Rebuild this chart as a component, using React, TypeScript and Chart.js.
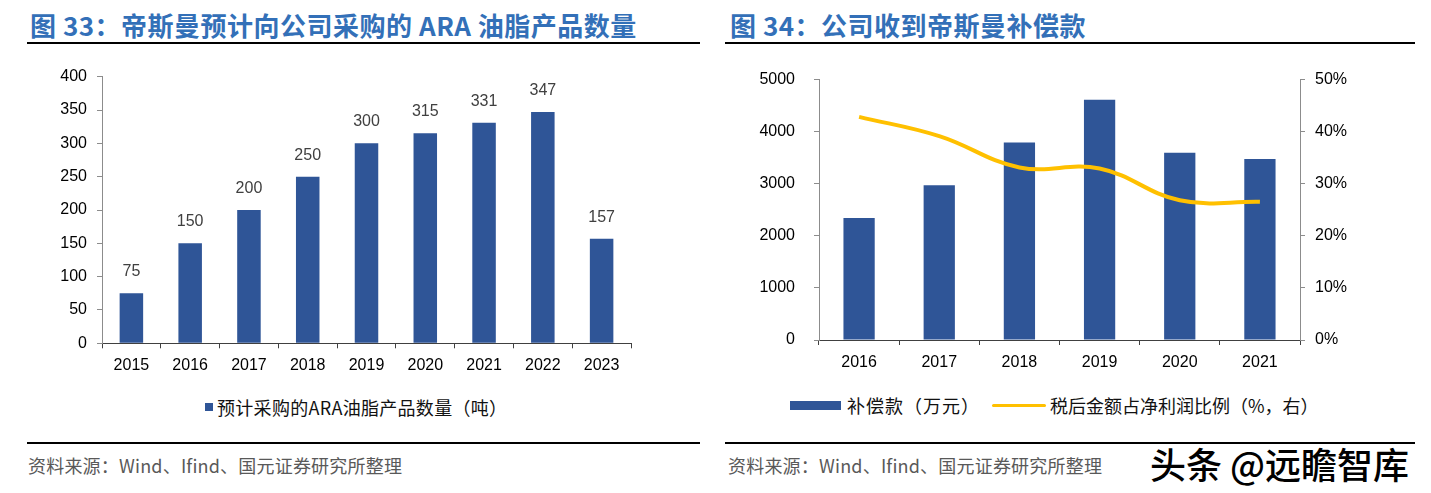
import React, { useEffect, useRef } from "react";
import { Chart, registerables } from "chart.js";

Chart.register(...registerables);

// ---- Data: Figure 33 ----
const purchaseYears = ["2015", "2016", "2017", "2018", "2019", "2020", "2021", "2022", "2023"];
const purchaseTons = [75, 150, 200, 250, 300, 315, 331, 347, 157];
const purchaseAxisMax = 400;
const purchaseAxisStep = 50;

// ---- Data: Figure 34 ----
const compYears = ["2016", "2017", "2018", "2019", "2020", "2021"];
const compAmount = [2340, 2970, 3790, 4610, 3590, 3470];
const compRatio = [42.8, 39.1, 33.1, 32.9, 26.8, 26.5];
const compAxisMax = 5000;
const compAxisStep = 1000;
const ratioAxisMax = 50;
const ratioAxisStep = 10;

const title33 = "图 33：帝斯曼预计向公司采购的 ARA 油脂产品数量";
const title34 = "图 34：公司收到帝斯曼补偿款";
const legend33 = "预计采购的ARA油脂产品数量（吨）";
const legend34Bar = "补偿款（万元）";
const legend34Line = "税后金额占净利润比例（%，右）";
const sourceText = "资料来源：Wind、Ifind、国元证券研究所整理";
const watermark = "头条 @远瞻智库";

const BAR = "#2F5597";
const LINE = "#FFC000";
const TICK_FONT = { family: "'Liberation Sans', Arial, sans-serif", size: 16 };
const CJK = "'Noto Sans CJK SC', 'Noto Sans', sans-serif";

const valueLabels = {
  id: "valueLabels",
  afterDatasetsDraw(chart: any) {
    const meta = chart.getDatasetMeta(0);
    const ctx = chart.ctx;
    ctx.save();
    ctx.font = "16px 'Liberation Sans', Arial, sans-serif";
    ctx.fillStyle = "#404040";
    ctx.textAlign = "center";
    ctx.textBaseline = "alphabetic";
    meta.data.forEach((bar: any, i: number) => {
      ctx.fillText(String(chart.data.datasets[0].data[i]), bar.x, bar.y - 17);
    });
    ctx.restore();
  },
};

function LeftChart() {
  const ref = useRef<HTMLCanvasElement | null>(null);
  useEffect(() => {
    if (!ref.current) return;
    const chart = new Chart(ref.current, {
      type: "bar",
      data: {
        labels: purchaseYears,
        datasets: [
          {
            label: legend33,
            data: purchaseTons,
            backgroundColor: BAR,
            borderWidth: 0,
            categoryPercentage: 1,
            barPercentage: 0.4,
          },
        ],
      },
      options: {
        animation: false,
        responsive: false,
        maintainAspectRatio: false,
        events: [],
        layout: { padding: { left: 0, right: 79, top: 26.7, bottom: 16.7 } },
        plugins: { legend: { display: false }, tooltip: { enabled: false } },
        scales: {
          x: {
            grid: { drawOnChartArea: false, drawTicks: true, tickLength: 5, color: "#404040", offset: true },
            border: { display: true, color: "#404040", width: 1 },
            ticks: { color: "#000", font: TICK_FONT, padding: 8, maxRotation: 0 },
            afterFit: (s: any) => { s.height = 30; },
          },
          y: {
            min: 0,
            max: purchaseAxisMax,
            grid: { drawOnChartArea: false, drawTicks: true, tickLength: 5, color: "#8C8C8C" },
            border: { display: true, color: "#8C8C8C", width: 1 },
            ticks: { stepSize: purchaseAxisStep, color: "#000", font: TICK_FONT, padding: 10 },
            afterFit: (s: any) => { s.width = 102; },
          },
        },
      },
      plugins: [valueLabels],
    });
    return () => chart.destroy();
  }, []);
  return <canvas ref={ref} width={710} height={340} style={{ position: "absolute", left: 0, top: 50, width: 710, height: 340 }} />;
}

function RightChart() {
  const ref = useRef<HTMLCanvasElement | null>(null);
  useEffect(() => {
    if (!ref.current) return;
    const chart = new Chart(ref.current, {
      type: "bar",
      data: {
        labels: compYears,
        datasets: [
          {
            type: "line",
            label: legend34Line,
            data: compRatio,
            yAxisID: "y1",
            borderColor: LINE,
            borderWidth: 4,
            pointRadius: 0,
            tension: 0.4,
            fill: false,
            order: 0,
          } as any,
          {
            type: "bar",
            label: legend34Bar,
            data: compAmount,
            yAxisID: "y",
            backgroundColor: BAR,
            borderWidth: 0,
            categoryPercentage: 1,
            barPercentage: 0.39,
            order: 1,
          },
        ],
      },
      options: {
        animation: false,
        responsive: false,
        maintainAspectRatio: false,
        events: [],
        layout: { padding: { left: 0, right: 71, top: 29.3, bottom: 20 } },
        plugins: { legend: { display: false }, tooltip: { enabled: false } },
        scales: {
          x: {
            offset: true,
            grid: { drawOnChartArea: false, drawTicks: true, tickLength: 5, color: "#404040", offset: true },
            border: { display: true, color: "#404040", width: 1 },
            ticks: { color: "#000", font: TICK_FONT, padding: 8, maxRotation: 0 },
            afterFit: (s: any) => { s.height = 30; },
          },
          y: {
            position: "left",
            min: 0,
            max: compAxisMax,
            grid: { drawOnChartArea: false, drawTicks: true, tickLength: 5, color: "#8C8C8C" },
            border: { display: true, color: "#8C8C8C", width: 1 },
            ticks: { stepSize: compAxisStep, color: "#000", font: TICK_FONT, padding: 19, callback: (v: any) => String(v) },
            afterFit: (s: any) => { s.width = 109; },
          },
          y1: {
            position: "right",
            min: 0,
            max: ratioAxisMax,
            grid: { drawOnChartArea: false, drawTicks: true, tickLength: 5, color: "#8C8C8C" },
            border: { display: true, color: "#8C8C8C", width: 1 },
            ticks: { stepSize: ratioAxisStep, color: "#000", font: TICK_FONT, padding: 10, callback: (v: any) => v + "%" },
            afterFit: (s: any) => { s.width = 60; },
          },
        },
      },
    });
    return () => chart.destroy();
  }, []);
  return <canvas ref={ref} width={721} height={340} style={{ position: "absolute", left: 710, top: 50, width: 721, height: 340 }} />;
}

const titleStyle = (left: number): React.CSSProperties => ({
  position: "absolute",
  left,
  top: 8,
  fontFamily: CJK,
  fontWeight: 700,
  fontSize: 26,
  letterSpacing: 0.5,
  lineHeight: "34px",
  color: "#3370B8",
  whiteSpace: "nowrap",
});

const ruleStyle = (left: number, top: number, width: number): React.CSSProperties => ({
  position: "absolute",
  left,
  top,
  width,
  height: 2,
  background: "#000",
});

const legendText: React.CSSProperties = {
  fontFamily: CJK,
  fontSize: 18,
  color: "#111",
  whiteSpace: "nowrap",
  lineHeight: "22px",
};

const sourceStyle = (left: number): React.CSSProperties => ({
  position: "absolute",
  left,
  top: 453,
  fontFamily: CJK,
  fontSize: 18,
  letterSpacing: 0.2,
  lineHeight: "24px",
  color: "#595959",
  whiteSpace: "nowrap",
});

export default function App() {
  return (
    <div style={{ position: "fixed", left: 0, top: 0, width: 1431, height: 493, background: "#fff", overflow: "hidden" }}>
      <div style={titleStyle(30)}>{title33}</div>
      <div style={ruleStyle(27, 42, 673)} />
      <div style={titleStyle(730)}>{title34}</div>
      <div style={ruleStyle(725, 42, 690)} />

      <LeftChart />
      <RightChart />

      {/* legend figure 33 */}
      <div style={{ position: "absolute", left: 205, top: 403, width: 8, height: 8, background: BAR }} />
      <div style={{ ...legendText, position: "absolute", left: 217, top: 396, letterSpacing: 0.3 }}>{legend33}</div>

      {/* legend figure 34 */}
      <div style={{ position: "absolute", left: 790, top: 401, width: 51, height: 9, background: BAR }} />
      <div style={{ ...legendText, position: "absolute", left: 847, top: 394, letterSpacing: 1 }}>{legend34Bar}</div>
      <div style={{ position: "absolute", left: 992, top: 404, width: 54, height: 3, background: LINE, borderRadius: 2 }} />
      <div style={{ ...legendText, position: "absolute", left: 1050, top: 394 }}>{legend34Line}</div>

      <div style={ruleStyle(27, 442, 673)} />
      <div style={ruleStyle(725, 442, 690)} />
      <div style={sourceStyle(28)}>{sourceText}</div>
      <div style={sourceStyle(728)}>{sourceText}</div>

      <div
        style={{
          position: "absolute",
          left: 1150,
          top: 442,
          fontFamily: CJK,
          fontSize: 36,
          fontWeight: 500,
          lineHeight: "42px",
          color: "#000",
          whiteSpace: "nowrap",
          textShadow: "0 0 2px #fff, 0 0 2px #fff, 1px 1px 0 #fff, -1px -1px 0 #fff",
        }}
      >
        {watermark}
      </div>
    </div>
  );
}
